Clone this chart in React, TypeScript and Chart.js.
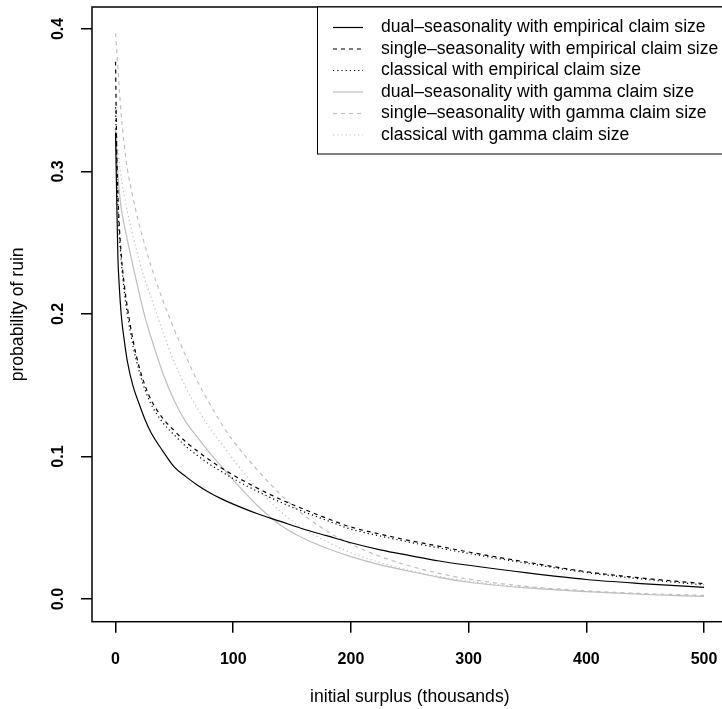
import React, { useEffect, useRef } from "react";
import { Chart, registerables } from "chart.js";

Chart.register(...registerables);

// Initial surplus (thousands) at which each ruin probability was evaluated
const surplus = [0, 1, 2, 3, 5, 7.5, 10, 15, 20, 25, 30, 40, 50, 60, 70, 80, 90, 100, 120, 140, 160, 180, 200, 225, 250, 275, 300, 350, 400, 450, 500];

// Probability of ruin, empirical claim size
const dualEmpirical = [0.327, 0.28, 0.24, 0.222, 0.198, 0.181, 0.167, 0.149, 0.137, 0.126, 0.117, 0.104, 0.0925, 0.0857, 0.0797, 0.0746, 0.0703, 0.0666, 0.06, 0.0545, 0.049, 0.0443, 0.0395, 0.0345, 0.0305, 0.0267, 0.0237, 0.0183, 0.0137, 0.0107, 0.0082];
const singleEmpirical = [0.377, 0.315, 0.285, 0.265, 0.24, 0.22, 0.205, 0.181, 0.163, 0.15, 0.14, 0.127, 0.118, 0.11, 0.1035, 0.0975, 0.092, 0.087, 0.078, 0.07, 0.063, 0.0565, 0.0505, 0.0455, 0.041, 0.037, 0.033, 0.0258, 0.0192, 0.0145, 0.0108];
const classicalEmpirical = [0.345, 0.3, 0.275, 0.258, 0.236, 0.215, 0.2, 0.177, 0.16, 0.147, 0.137, 0.124, 0.115, 0.107, 0.1005, 0.0945, 0.0895, 0.0845, 0.0758, 0.068, 0.0612, 0.055, 0.049, 0.0442, 0.0398, 0.0358, 0.032, 0.025, 0.0186, 0.0138, 0.0099];

// Probability of ruin, gamma claim size
const dualGamma = [0.33, 0.315, 0.3, 0.288, 0.273, 0.262, 0.252, 0.233, 0.215, 0.198, 0.184, 0.159, 0.139, 0.124, 0.113, 0.1025, 0.093, 0.0835, 0.066, 0.052, 0.0425, 0.0355, 0.0298, 0.024, 0.0195, 0.0152, 0.0118, 0.0078, 0.0052, 0.0032, 0.0018];
const singleGamma = [0.397, 0.385, 0.372, 0.36, 0.338, 0.318, 0.302, 0.281, 0.263, 0.248, 0.234, 0.21, 0.189, 0.17, 0.152, 0.137, 0.123, 0.111, 0.091, 0.0735, 0.059, 0.0475, 0.0385, 0.0298, 0.0232, 0.018, 0.014, 0.0088, 0.0058, 0.0038, 0.0026];
const classicalGamma = [0.345, 0.33, 0.318, 0.308, 0.295, 0.283, 0.272, 0.254, 0.238, 0.224, 0.212, 0.188, 0.166, 0.148, 0.133, 0.12, 0.109, 0.098, 0.078, 0.0615, 0.049, 0.04, 0.0325, 0.0255, 0.02, 0.0158, 0.0125, 0.0082, 0.0053, 0.0034, 0.0022];

const seriesLabels = [
  "dual–seasonality with empirical claim size",
  "single–seasonality with empirical claim size",
  "classical with empirical claim size",
  "dual–seasonality with gamma claim size",
  "single–seasonality with gamma claim size",
  "classical with gamma claim size",
];

const surplusTicks = [0, 100, 200, 300, 400, 500];
const ruinTicks = [0, 0.1, 0.2, 0.3, 0.4];

const FONT = "'Liberation Sans', Arial, Helvetica, sans-serif";
const BLACK = "#000000";
const GREY = "#bebebe";
const SOLID: number[] = [];
const DASHED = [4, 4];
const DOTTED = [1.2, 3];

const styles = [
  { color: BLACK, dash: SOLID },
  { color: BLACK, dash: DASHED },
  { color: BLACK, dash: DOTTED },
  { color: GREY, dash: SOLID },
  { color: GREY, dash: DASHED },
  { color: GREY, dash: DOTTED },
];

const seriesValues = [dualEmpirical, singleEmpirical, classicalEmpirical, dualGamma, singleGamma, classicalGamma];

// Frame around the plotting region
const boxPlugin = {
  id: "plotBox",
  afterDraw(chart: any) {
    const { ctx, chartArea } = chart;
    ctx.save();
    ctx.strokeStyle = BLACK;
    ctx.lineWidth = 1.5;
    ctx.strokeRect(chartArea.left, chartArea.top, chartArea.right - chartArea.left, chartArea.bottom - chartArea.top);
    ctx.restore();
  },
};

// Boxed legend anchored to the top-right corner of the plotting region
const boxedLegendPlugin = {
  id: "boxedLegend",
  afterDraw(chart: any) {
    const { ctx, chartArea } = chart;
    const datasets = chart.data.datasets;
    const right = chartArea.right;
    const top = chartArea.top;
    const left = right - 410.6;
    const rowH = 21.5;
    const firstRow = top + 20.5;
    const bottom = top + 147;
    ctx.save();
    ctx.fillStyle = "#ffffff";
    ctx.fillRect(left, top, right - left, bottom - top);
    ctx.strokeStyle = BLACK;
    ctx.lineWidth = 1;
    ctx.strokeRect(left + 0.5, top, right - left, bottom - top);
    ctx.font = `17.6px ${FONT}`;
    ctx.textBaseline = "middle";
    ctx.textAlign = "left";
    datasets.forEach((ds: any, i: number) => {
      const y = firstRow + i * rowH;
      ctx.beginPath();
      ctx.setLineDash(ds.borderDash || []);
      ctx.strokeStyle = ds.borderColor;
      ctx.lineWidth = ds.borderWidth;
      ctx.moveTo(left + 16, y);
      ctx.lineTo(left + 46, y);
      ctx.stroke();
      ctx.setLineDash([]);
      ctx.fillStyle = BLACK;
      ctx.fillText(ds.label, left + 64, y);
    });
    ctx.restore();
  },
};

export default function App() {
  const canvasRef = useRef<HTMLCanvasElement | null>(null);

  useEffect(() => {
    const canvas = canvasRef.current;
    if (!canvas) return;

    const datasets = seriesValues.map((values, i) => ({
      label: seriesLabels[i],
      data: surplus.map((x, j) => ({ x, y: values[j] })),
      borderColor: styles[i].color,
      borderDash: styles[i].dash,
      borderWidth: 1.2,
      pointRadius: 0,
      fill: false,
      cubicInterpolationMode: "monotone" as const,
    }));

    const tickFont = { family: FONT, size: 16, weight: "bold" as const };
    const titleFont = { family: FONT, size: 17.6, weight: "normal" as const };
    const gridOpts = {
      display: true,
      drawOnChartArea: false,
      drawTicks: true,
      tickLength: 11,
      color: BLACK,
      lineWidth: 1.5,
    };

    const chart = new Chart(canvas, {
      type: "line",
      data: { datasets },
      plugins: [boxPlugin, boxedLegendPlugin],
      options: {
        responsive: false,
        animation: false,
        devicePixelRatio: 1,
        layout: { padding: { left: 0, top: 7, right: 12.4, bottom: 0 } },
        plugins: {
          legend: { display: false },
          tooltip: { enabled: false },
        },
        scales: {
          x: {
            type: "linear",
            min: -20,
            max: 520,
            afterBuildTicks: (s: any) => {
              s.ticks = surplusTicks.map((v) => ({ value: v }));
            },
            afterFit: (s: any) => {
              s.height = 87.3;
              s.paddingLeft = 0;
              s.paddingRight = 0;
            },
            grid: gridOpts,
            border: { display: false },
            ticks: {
              autoSkip: false,
              minRotation: 0,
              maxRotation: 0,
              padding: 17.7,
              color: BLACK,
              font: tickFont,
              callback: (v: any) => String(v),
            },
            title: {
              display: true,
              text: "initial surplus (thousands)",
              color: BLACK,
              font: titleFont,
              padding: { top: 0, bottom: 1.4 },
            },
          },
          y: {
            type: "linear",
            min: -0.0159,
            max: 0.4154,
            afterBuildTicks: (s: any) => {
              s.ticks = ruinTicks.map((v) => ({ value: v }));
            },
            afterFit: (s: any) => {
              s.width = 92;
              s.paddingTop = 0;
              s.paddingBottom = 0;
            },
            grid: gridOpts,
            border: { display: false },
            ticks: {
              autoSkip: false,
              minRotation: 90,
              maxRotation: 90,
              crossAlign: "center",
              padding: 11,
              color: BLACK,
              font: tickFont,
              callback: (v: any) => Number(v).toFixed(1),
            },
            title: {
              display: true,
              text: "probability of ruin",
              color: BLACK,
              font: titleFont,
              padding: { top: 7.4, bottom: 0 },
            },
          },
        },
      },
    } as any);

    return () => chart.destroy();
  }, []);

  return (
    <div
      style={{
        position: "fixed",
        left: 0,
        top: 0,
        width: 722,
        height: 709,
        overflow: "hidden",
        background: "#ffffff",
      }}
    >
      <canvas ref={canvasRef} width={740} height={709} style={{ display: "block", width: 740, height: 709 }} />
    </div>
  );
}
